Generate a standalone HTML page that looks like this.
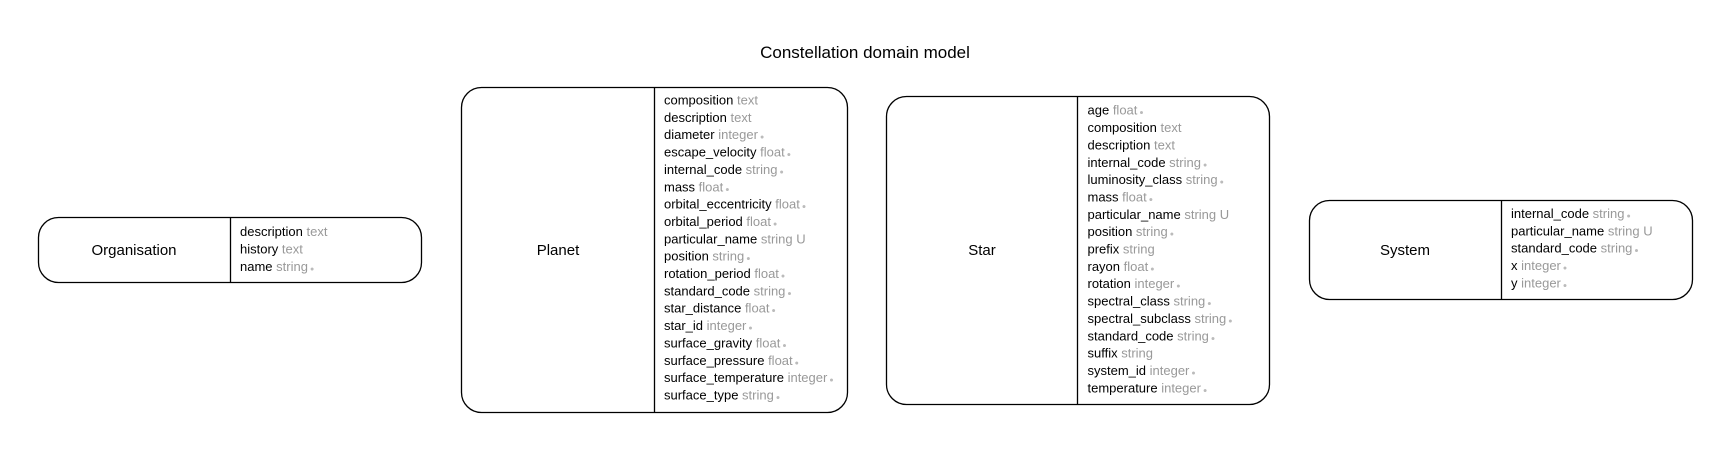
<!DOCTYPE html>
<html><head><meta charset="utf-8"><style>
html,body{margin:0;padding:0;background:#fff;}
svg{display:block;}
text{font-family:"Liberation Sans",Arial,sans-serif;}
.f{font-size:13px;fill:#000;}
.t{fill:#999;}
.d{fill:#bbb;font-size:7px;}
.l{font-size:15px;fill:#000;}
</style></head><body>
<svg width="1731" height="451" viewBox="0 0 1731 451" xmlns="http://www.w3.org/2000/svg">
<text x="865" y="58" text-anchor="middle" style="font-size:17px">Constellation domain model</text>
<g fill="none" stroke="#000" stroke-width="1.3">
<rect x="38.5" y="217.5" width="383" height="65" rx="20"/><line x1="230.5" y1="217.5" x2="230.5" y2="282.5"/>
<rect x="461.5" y="87.5" width="386" height="325" rx="20"/><line x1="654.5" y1="87.5" x2="654.5" y2="412.5"/>
<rect x="886.5" y="96.5" width="383" height="308" rx="20"/><line x1="1077.5" y1="96.5" x2="1077.5" y2="404.5"/>
<rect x="1309.5" y="200.5" width="383" height="99" rx="20"/><line x1="1501.5" y1="200.5" x2="1501.5" y2="299.5"/>
</g>
<text class="l" x="134" y="255" text-anchor="middle">Organisation</text>
<text class="l" x="558" y="255" text-anchor="middle">Planet</text>
<text class="l" x="982" y="255" text-anchor="middle">Star</text>
<text class="l" x="1405" y="255" text-anchor="middle">System</text>

<g class="f" transform="translate(0,1.5)">
<text x="240" y="234.5">description <tspan class="t">text</tspan></text>
<text x="240" y="252">history <tspan class="t">text</tspan></text>
<text x="240" y="269.5">name <tspan class="t">string</tspan><tspan class="d" dx="2">●</tspan></text>
</g>

<g class="f" transform="translate(0,1.5)">
<text x="664" y="103">composition <tspan class="t">text</tspan></text>
<text x="664" y="120.4">description <tspan class="t">text</tspan></text>
<text x="664" y="137.7">diameter <tspan class="t">integer</tspan><tspan class="d" dx="2">●</tspan></text>
<text x="664" y="155.1">escape_velocity <tspan class="t">float</tspan><tspan class="d" dx="2">●</tspan></text>
<text x="664" y="172.4">internal_code <tspan class="t">string</tspan><tspan class="d" dx="2">●</tspan></text>
<text x="664" y="189.8">mass <tspan class="t">float</tspan><tspan class="d" dx="2">●</tspan></text>
<text x="664" y="207.1">orbital_eccentricity <tspan class="t">float</tspan><tspan class="d" dx="2">●</tspan></text>
<text x="664" y="224.5">orbital_period <tspan class="t">float</tspan><tspan class="d" dx="2">●</tspan></text>
<text x="664" y="241.8">particular_name <tspan class="t">string U</tspan></text>
<text x="664" y="259.2">position <tspan class="t">string</tspan><tspan class="d" dx="2">●</tspan></text>
<text x="664" y="276.5">rotation_period <tspan class="t">float</tspan><tspan class="d" dx="2">●</tspan></text>
<text x="664" y="293.9">standard_code <tspan class="t">string</tspan><tspan class="d" dx="2">●</tspan></text>
<text x="664" y="311.2">star_distance <tspan class="t">float</tspan><tspan class="d" dx="2">●</tspan></text>
<text x="664" y="328.6">star_id <tspan class="t">integer</tspan><tspan class="d" dx="2">●</tspan></text>
<text x="664" y="345.9">surface_gravity <tspan class="t">float</tspan><tspan class="d" dx="2">●</tspan></text>
<text x="664" y="363.3">surface_pressure <tspan class="t">float</tspan><tspan class="d" dx="2">●</tspan></text>
<text x="664" y="380.6">surface_temperature <tspan class="t">integer</tspan><tspan class="d" dx="2">●</tspan></text>
<text x="664" y="398">surface_type <tspan class="t">string</tspan><tspan class="d" dx="2">●</tspan></text>
</g>

<g class="f" transform="translate(0,1.5)">
<text x="1087.5" y="113.2">age <tspan class="t">float</tspan><tspan class="d" dx="2">●</tspan></text>
<text x="1087.5" y="130.6">composition <tspan class="t">text</tspan></text>
<text x="1087.5" y="147.9">description <tspan class="t">text</tspan></text>
<text x="1087.5" y="165.3">internal_code <tspan class="t">string</tspan><tspan class="d" dx="2">●</tspan></text>
<text x="1087.5" y="182.6">luminosity_class <tspan class="t">string</tspan><tspan class="d" dx="2">●</tspan></text>
<text x="1087.5" y="200">mass <tspan class="t">float</tspan><tspan class="d" dx="2">●</tspan></text>
<text x="1087.5" y="217.3">particular_name <tspan class="t">string U</tspan></text>
<text x="1087.5" y="234.7">position <tspan class="t">string</tspan><tspan class="d" dx="2">●</tspan></text>
<text x="1087.5" y="252">prefix <tspan class="t">string</tspan></text>
<text x="1087.5" y="269.4">rayon <tspan class="t">float</tspan><tspan class="d" dx="2">●</tspan></text>
<text x="1087.5" y="286.7">rotation <tspan class="t">integer</tspan><tspan class="d" dx="2">●</tspan></text>
<text x="1087.5" y="304.1">spectral_class <tspan class="t">string</tspan><tspan class="d" dx="2">●</tspan></text>
<text x="1087.5" y="321.4">spectral_subclass <tspan class="t">string</tspan><tspan class="d" dx="2">●</tspan></text>
<text x="1087.5" y="338.8">standard_code <tspan class="t">string</tspan><tspan class="d" dx="2">●</tspan></text>
<text x="1087.5" y="356.1">suffix <tspan class="t">string</tspan></text>
<text x="1087.5" y="373.5">system_id <tspan class="t">integer</tspan><tspan class="d" dx="2">●</tspan></text>
<text x="1087.5" y="390.8">temperature <tspan class="t">integer</tspan><tspan class="d" dx="2">●</tspan></text>
</g>

<g class="f" transform="translate(0,1.5)">
<text x="1511" y="216.5">internal_code <tspan class="t">string</tspan><tspan class="d" dx="2">●</tspan></text>
<text x="1511" y="233.8">particular_name <tspan class="t">string U</tspan></text>
<text x="1511" y="251.2">standard_code <tspan class="t">string</tspan><tspan class="d" dx="2">●</tspan></text>
<text x="1511" y="268.5">x <tspan class="t">integer</tspan><tspan class="d" dx="2">●</tspan></text>
<text x="1511" y="285.9">y <tspan class="t">integer</tspan><tspan class="d" dx="2">●</tspan></text>
</g>
</svg>
</body></html>
